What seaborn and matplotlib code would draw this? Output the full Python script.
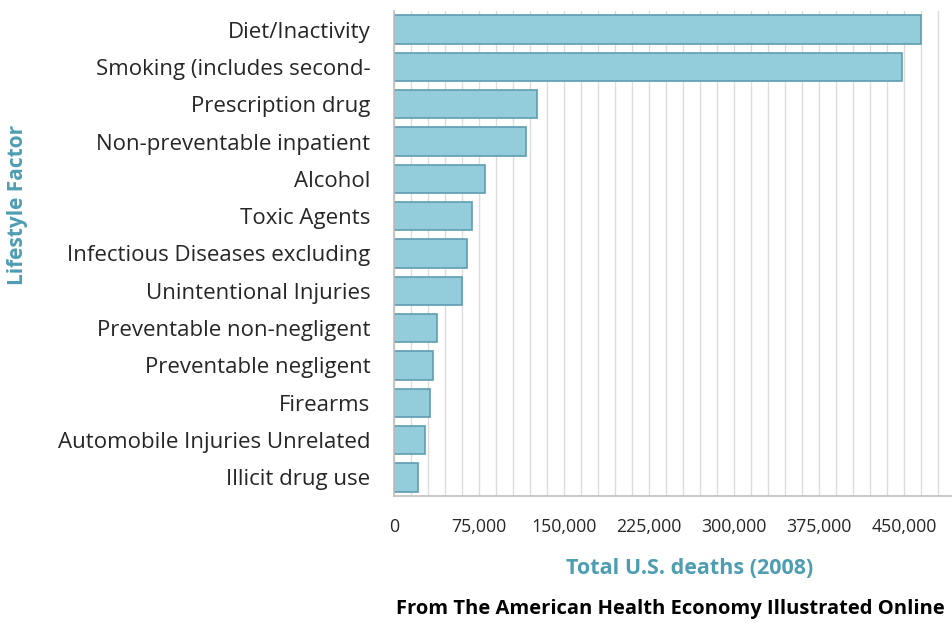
import numpy as np
import seaborn as sns
import matplotlib.pyplot as plt
import pandas as pd

factors = ["Diet/Inactivity", "Smoking (includes second-", "Prescription drug",
           "Non-preventable inpatient", "Alcohol", "Toxic Agents",
           "Infectious Diseases excluding", "Unintentional Injuries",
           "Preventable non-negligent", "Preventable negligent", "Firearms",
           "Automobile Injuries Unrelated", "Illicit drug use"]
deaths = [465000, 448000, 126000, 116000, 80000, 69000, 64000, 60000,
          38000, 34000, 32000, 27000, 21000]
xticks = [0, 75000, 150000, 225000, 300000, 375000, 450000]

df = pd.DataFrame({"factor": factors, "deaths": deaths})

sns.set_style("white")
plt.rcParams["font.family"] = ["Open Sans", "DejaVu Sans"]
teal = "#4d9db3"

fig = plt.figure(figsize=(9.52, 6.27), dpi=100)
ax = fig.add_axes([394 / 952, 131 / 627, 558 / 952, 485 / 627])

sns.barplot(data=df, x="deaths", y="factor", orient="h", color="#93cddc",
            edgecolor="#5f9cb0", linewidth=1.2, width=0.76, saturation=1, ax=ax)

ax.set_xlim(0, 492000)
ax.set_xticks(xticks)
ax.set_xticklabels([f"{t:,}" for t in xticks], fontsize=12.8)
ax.set_xticks(np.arange(0, 492000, 15000), minor=True)
ax.grid(axis="x", which="both", color="#dcdcdc", linewidth=1)
ax.set_axisbelow(True)
ax.tick_params(axis="y", length=0, pad=17, labelsize=16)
ax.tick_params(axis="x", which="both", length=0, pad=16)

for s in ["top", "right"]:
    ax.spines[s].set_visible(False)
for s in ["left", "bottom"]:
    ax.spines[s].set_color("#bfbfbf")
    ax.spines[s].set_linewidth(1.2)

ax.set_xlabel("Total U.S. deaths (2008)", fontsize=15.5, fontweight="bold", color=teal)
ax.xaxis.set_label_coords((690 - 394) / 558, -72 / 485)
ax.xaxis.label.set_va("center")
ax.set_ylabel("Lifestyle Factor", fontsize=15, fontweight="bold", color=teal)
ax.yaxis.set_label_coords((18 - 394) / 558, (496 - 205) / 485)
ax.yaxis.label.set_va("center")

fig.text(945 / 952, 1 - 609 / 627, "From The American Health Economy Illustrated Online",
         ha="right", va="center", fontsize=14.5, fontweight="bold", color="black")

plt.savefig("out.png", dpi=100)
